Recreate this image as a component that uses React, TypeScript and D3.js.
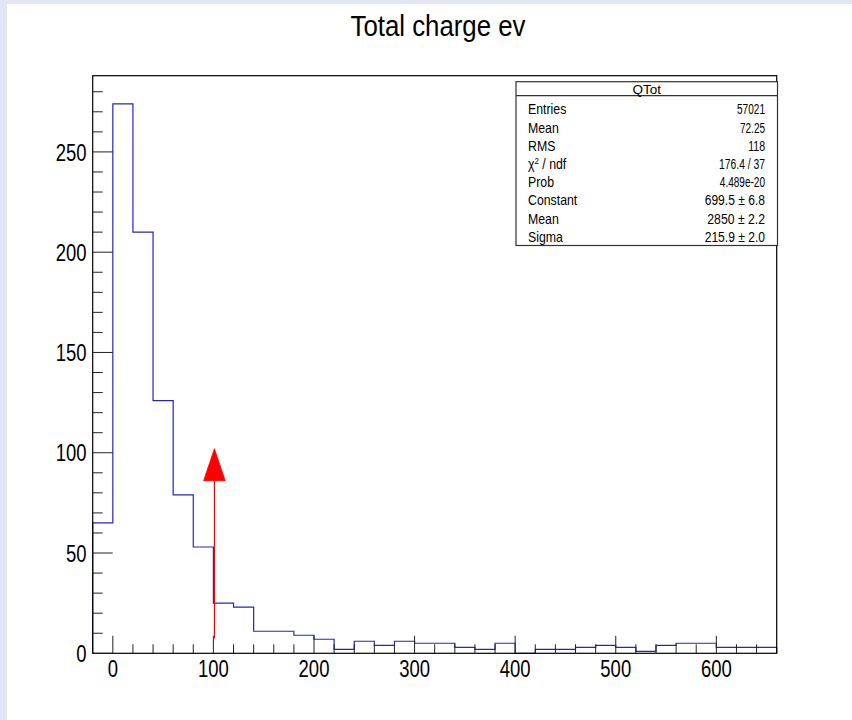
import React from "react";
import * as d3 from "d3";

// ---- data ----
const binStarts = [-20, 0, 20, 40, 60, 80, 100, 120, 140, 160, 180, 200, 220, 240, 260, 280, 300, 320, 340, 360, 380, 400, 420, 440, 460, 480, 500, 520, 540, 560, 580, 600, 620, 640];
const binWidth = 20;
const counts = [65, 274, 210, 126, 79, 53, 25, 23, 11, 11, 9, 7, 2, 6, 4, 6, 5, 5, 3, 2, 5, 0, 2, 2, 3, 4, 3, 1, 4, 5, 5, 3, 3, 3];
const xDomain = [-20, 660];
const yDomain = [0, 288];
const xMajorTicks = [0, 100, 200, 300, 400, 500, 600];
const yMajorTicks = [0, 50, 100, 150, 200, 250];
const title = "Total charge ev";
const statsTitle = "QTot";
const statLabels = ["Entries", "Mean", "RMS", "CHI", "Prob", "Constant", "Mean", "Sigma"];
const statValues = ["57021", "72.25", "118", "176.4 / 37", "4.489e-20", "699.5 ± 6.8", "2850 ± 2.2", "215.9 ± 2.0"];
const arrowX = 101;
const arrowY1 = 7.5;
const arrowY2 = 102;

// ---- layout ----
const W = 852, H = 720;
const frame = { left: 92.7, right: 776.7, top: 75.7, bottom: 653.3 };
const FONT = "'Liberation Sans', Arial, Helvetica, sans-serif";

function valueWidth(s: string): number {
  let w = 0;
  let str = s;
  const pmCount = (str.match(/ ± /g) || []).length;
  str = str.replace(/ ± /g, "");
  w += pmCount * 21.5;
  for (const ch of str) {
    if (/[0-9]/.test(ch)) w += 5.6;
    else if (ch === ".") w += 2.6;
    else if (ch === " ") w += 3.2;
    else if (ch === "/") w += 3.4;
    else if (ch === "e") w += 5.6;
    else if (ch === "-") w += 3.4;
    else w += 5.5;
  }
  return w;
}

export default function App() {
  const x = d3.scaleLinear().domain(xDomain).range([frame.left, frame.right]);
  const y = d3.scaleLinear().domain(yDomain).range([frame.bottom, frame.top]);

  const pts: [number, number][] = [[x(binStarts[0]), y(0)]];
  binStarts.forEach((s, i) => {
    pts.push([x(s), y(counts[i])]);
    pts.push([x(s + binWidth), y(counts[i])]);
  });
  pts.push([x(binStarts[binStarts.length - 1] + binWidth), y(0)]);
  const histPath = d3.line()(pts) || "";

  const xMinor = d3.range(xDomain[0] + binWidth, xDomain[1], 20).filter((v) => !xMajorTicks.includes(v));
  const yMinor = d3.range(10, yDomain[1], 10).filter((v) => !yMajorTicks.includes(v));

  const box = { x0: 516, x1: 777.5, y0: 81.7, sep: 95.7, y1: 245.5 };
  const rowBase = (i: number) => 114.3 + i * 18.2;

  const ax = x(arrowX);
  const headTip = y(arrowY2);
  const headLen = 32;
  const headHalf = 10.8;

  return (
    <svg width={W} height={H} style={{ position: "absolute", left: 0, top: 0 }} fontFamily={FONT}>
      <rect x={0} y={0} width={W} height={H} fill="#e2e6f4" />
      <rect x={7} y={4} width={W - 7} height={H - 4} fill="#ffffff" />

      {/* title */}
      <text transform={`translate(438,36) scale(0.89,1)`} textAnchor="middle" fontSize={29} fill="#000">
        {title}
      </text>

      {/* histogram */}
      <path d={histPath} fill="none" stroke="#2424c8" strokeWidth={1.2} />

      {/* frame */}
      <rect x={frame.left} y={frame.top} width={frame.right - frame.left} height={frame.bottom - frame.top} fill="none" stroke="#000" strokeWidth={1.2} />

      {/* x ticks */}
      {xMajorTicks.map((v) => (
        <line key={"xM" + v} x1={x(v)} x2={x(v)} y1={frame.bottom} y2={frame.bottom - 17.5} stroke="#222" strokeWidth={1} />
      ))}
      {xMinor.map((v) => (
        <line key={"xm" + v} x1={x(v)} x2={x(v)} y1={frame.bottom} y2={frame.bottom - 9} stroke="#222" strokeWidth={1} />
      ))}
      {xMajorTicks.map((v) => (
        <text key={"xl" + v} transform={`translate(${x(v)},677.3) scale(0.77,1)`} textAnchor="middle" fontSize={24} fill="#000">
          {v}
        </text>
      ))}

      {/* y ticks */}
      {yMajorTicks.map((v) => (
        <line key={"yM" + v} x1={frame.left} x2={frame.left + 20} y1={y(v)} y2={y(v)} stroke="#222" strokeWidth={1} />
      ))}
      {yMinor.map((v) => (
        <line key={"ym" + v} x1={frame.left} x2={frame.left + 10} y1={y(v)} y2={y(v)} stroke="#222" strokeWidth={1} />
      ))}
      {yMajorTicks.map((v) => (
        <text key={"yl" + v} transform={`translate(86.5,${y(v) + 8.6}) scale(0.77,1)`} textAnchor="end" fontSize={24} fill="#000">
          {v}
        </text>
      ))}

      {/* arrow */}
      <line x1={ax} x2={ax} y1={y(arrowY1)} y2={headTip + headLen} stroke="#ff0000" strokeWidth={1.2} />
      <path d={`M${ax},${headTip} L${ax + headHalf},${headTip + headLen} L${ax - headHalf},${headTip + headLen} Z`} fill="#ff0000" stroke="#ff0000" strokeWidth={0.8} />

      {/* stats box */}
      <rect x={box.x0} y={box.y0} width={box.x1 - box.x0} height={box.y1 - box.y0} fill="#fff" stroke="#333" strokeWidth={1.2} />
      <line x1={box.x0} x2={box.x1} y1={box.sep} y2={box.sep} stroke="#333" strokeWidth={1.2} />
      <text x={(box.x0 + box.x1) / 2} y={94} textAnchor="middle" fontSize={13.5} fill="#000">
        {statsTitle}
      </text>
      {statLabels.map((lab, i) => (
        <text key={"sl" + i} transform={`translate(528,${rowBase(i)}) scale(0.88,1)`} fontSize={14} fill="#000">
          {lab === "CHI" ? (
            <>
              <tspan>χ</tspan>
              <tspan fontSize={9} dy={-5}>2</tspan>
              <tspan dy={5}> / ndf</tspan>
            </>
          ) : (
            lab
          )}
        </text>
      ))}
      {statValues.map((val, i) => {
        const w = valueWidth(val);
        return (
          <text key={"sv" + i} x={765 - w} y={rowBase(i)} fontSize={14} fill="#000" textLength={w} lengthAdjust="spacingAndGlyphs">
            {val}
          </text>
        );
      })}
    </svg>
  );
}
